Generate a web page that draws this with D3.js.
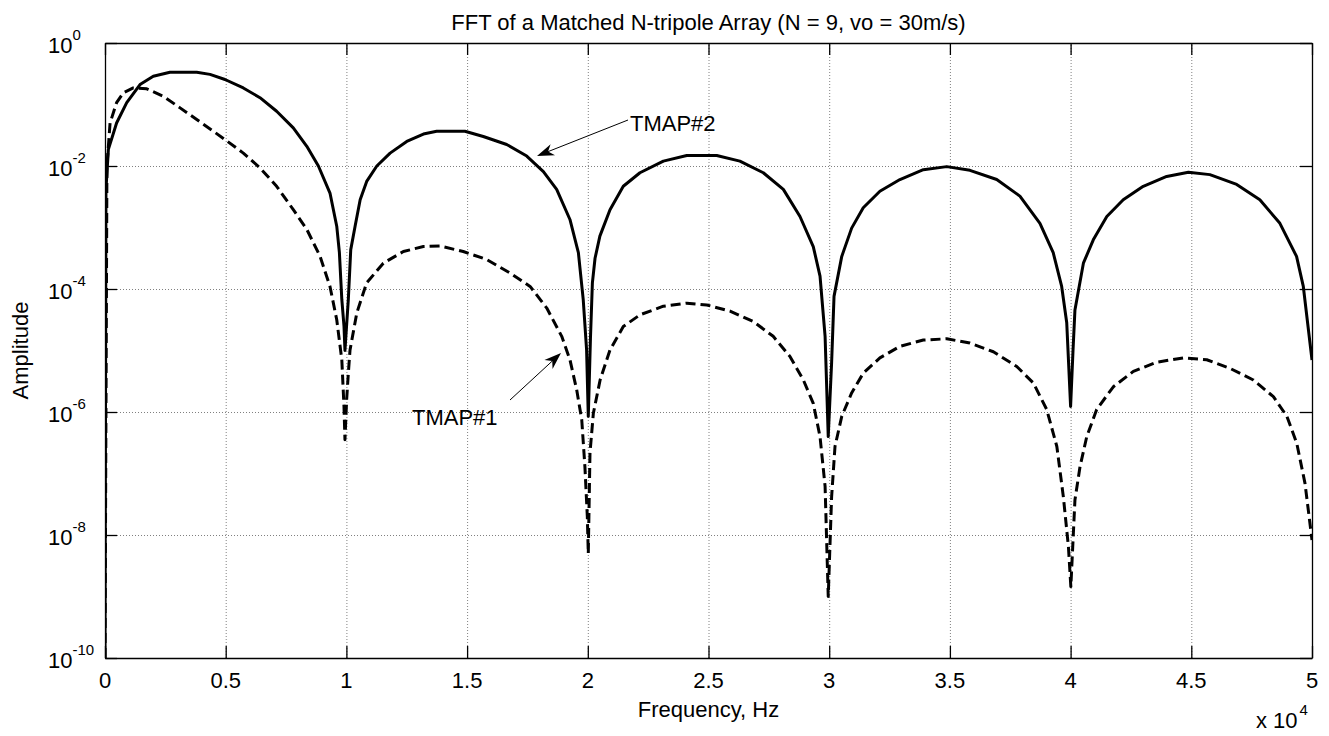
<!DOCTYPE html>
<html>
<head>
<meta charset="utf-8">
<script src="https://cdn.jsdelivr.net/npm/d3@7"></script>
<style>
  body { margin: 0; background: #fff; }
  svg { display: block; font-family: 'Liberation Sans', Arial, sans-serif; }
</style>
</head>
<body>
<div class="chart"></div>
<script>
// values (frequency in Hz, amplitude linear)
const tmap2Freq = [0, 40, 140, 480, 900, 1450, 2000, 2690, 3800, 4350, 4970, 5730, 6420, 7110, 7800, 8360, 8840, 9320, 9600, 9710, 9810, 9900, 9940,
	10080, 10180, 10360, 10570, 10840, 11260, 11810, 12500, 13190, 13740, 14910, 15670, 16640, 17470, 18160, 18710, 19260, 19610, 19810, 19950, 20020,
	20110, 20190, 20300, 20500, 20920, 21470, 22160, 23130, 24100, 25340, 26300, 27270, 28100, 28790, 29340, 29620, 29830, 29960,
	30100, 30200, 30520, 30930, 31410, 32100, 32930, 33900, 34870, 35830, 36940, 37900, 38730, 39280, 39630, 39840, 40000,
	40100, 40180, 40530, 40940, 41500, 42180, 43010, 43980, 44880, 45770, 46880, 47840, 48670, 49360, 49640, 50000];
const tmap2Amp = [1e-10, 4.17e-3, 1.86e-2, 5.0e-2, 0.107, 0.211, 0.288, 0.335, 0.335, 0.309, 0.255, 0.186, 0.129, 0.0776, 0.0417, 0.0209, 0.01, 3.63e-3, 1.05e-3, 3.89e-4, 6.76e-5, 2.5e-5, 1.0e-5,
	6.76e-5, 4.37e-4, 1.05e-3, 2.82e-3, 5.62e-3, 1.0e-2, 1.62e-2, 2.51e-2, 3.31e-2, 3.67e-2, 3.67e-2, 3.02e-2, 2.24e-2, 1.45e-2, 8.13e-3, 4.17e-3, 1.35e-3, 3.89e-4, 6.76e-5, 1.02e-5, 8.5e-7,
	1.58e-5, 1.26e-4, 3.16e-4, 7.24e-4, 1.95e-3, 4.68e-3, 7.76e-3, 1.20e-2, 1.48e-2, 1.48e-2, 1.20e-2, 7.76e-3, 4.17e-3, 1.51e-3, 4.9e-4, 1.62e-4, 1.7e-5, 3.98e-7,
	6.31e-6, 7.59e-5, 3.39e-4, 9.77e-4, 2.09e-3, 3.89e-3, 6.03e-3, 8.71e-3, 9.77e-3, 8.51e-3, 6.03e-3, 3.24e-3, 1.17e-3, 3.89e-4, 1.10e-4, 2.82e-5, 1.23e-6,
	1.0e-5, 4.57e-5, 2.63e-4, 6.31e-4, 1.51e-3, 2.82e-3, 4.68e-3, 6.76e-3, 7.94e-3, 7.24e-3, 5.01e-3, 2.82e-3, 1.17e-3, 3.39e-4, 1.10e-4, 7.0e-6];

const tmap1Freq = [0, 80, 210, 480, 760, 1170, 1730, 2420, 3110, 3800, 4490, 4970, 5730, 6420, 7110, 7800, 8360, 8910, 9320, 9600, 9810, 9900, 9940,
	10010, 10080, 10150, 10430, 10840, 11530, 12360, 13190, 13880, 14840, 15810, 16780, 17610, 18300, 18920, 19260, 19540, 19750, 19880, 19980, 20020,
	20090, 20230, 20510, 20920, 21470, 22160, 23130, 24100, 24930, 25890, 26860, 27680, 28380, 28930, 29340, 29620, 29830, 29960,
	30100, 30240, 30520, 30930, 31410, 32100, 32930, 33900, 34870, 35830, 36800, 37770, 38460, 39010, 39430, 39700, 39910, 40010,
	40180, 40390, 40670, 41080, 41770, 42600, 43570, 44670, 45640, 46600, 47570, 48400, 48960, 49370, 49710, 50000];
const tmap1Amp = [1e-10, 1e-2, 5.0e-2, 0.107, 0.155, 0.186, 0.180, 0.136, 0.0881, 0.0569, 0.0367, 0.0269, 0.0162, 9.33e-3, 4.68e-3, 1.95e-3, 9.33e-4, 3.39e-4, 1.10e-4, 3.16e-5, 7.08e-6, 1.23e-6, 3.55e-7,
	1.58e-6, 4.27e-6, 1.02e-5, 4.07e-5, 1.26e-4, 2.63e-4, 4.07e-4, 4.90e-4, 5.01e-4, 4.07e-4, 3.02e-4, 1.82e-4, 1.10e-4, 4.90e-5, 1.70e-5, 7.08e-6, 2.29e-6, 7.41e-7, 1.29e-7, 2.0e-8, 5.0e-9,
	2.14e-7, 9.55e-7, 3.31e-6, 1.02e-5, 2.45e-5, 3.80e-5, 5.25e-5, 5.89e-5, 5.50e-5, 4.37e-5, 2.95e-5, 1.70e-5, 7.94e-6, 3.31e-6, 1.38e-6, 3.98e-7, 6.17e-8, 1.0e-9,
	4.17e-8, 2.75e-7, 8.51e-7, 2.04e-6, 4.27e-6, 7.59e-6, 1.17e-5, 1.48e-5, 1.55e-5, 1.32e-5, 9.55e-6, 5.50e-6, 2.95e-6, 1.10e-6, 2.75e-7, 4.17e-8, 6.46e-9, 1.45e-9,
	3.72e-8, 1.29e-7, 3.98e-7, 1.10e-6, 2.57e-6, 4.57e-6, 6.46e-6, 7.59e-6, 7.08e-6, 5.13e-6, 3.31e-6, 1.78e-6, 8.51e-7, 3.09e-7, 6.92e-8, 8.3e-9];

const xTicks = [0, 5000, 10000, 15000, 20000, 25000, 30000, 35000, 40000, 45000, 50000];
const xTickLabels = ['0', '0.5', '1', '1.5', '2', '2.5', '3', '3.5', '4', '4.5', '5'];
const yTicks = [1, 1e-2, 1e-4, 1e-6, 1e-8, 1e-10];
const yTickExps = ['0', '-2', '-4', '-6', '-8', '-10'];

const titleText = 'FFT of a Matched N-tripole Array (N = 9, vo = 30m/s)';

const svgWidth = 1329;
const svgHeight = 736;
const plot = { left: 105, right: 1312, top: 43, bottom: 658 };

const svg = d3
	.select('.chart')
	.append('svg')
	.attr('width', svgWidth)
	.attr('height', svgHeight);

const x = d3.scaleLinear().domain([ 0, 50000 ]).range([ plot.left, plot.right ]);
const y = d3.scaleLog().domain([ 1e-10, 1 ]).range([ plot.bottom, plot.top ]);

svg.append('clipPath').attr('id', 'clip')
	.append('rect')
	.attr('x', plot.left).attr('y', plot.top)
	.attr('width', plot.right - plot.left).attr('height', plot.bottom - plot.top);

// dotted grid
const grid = svg.append('g').attr('class', 'grid');
grid.append('g')
	.attr('transform', `translate(0,${plot.bottom})`)
	.call(d3.axisBottom(x).tickValues(xTicks.slice(1, -1)).tickSize(-(plot.bottom - plot.top)).tickFormat(''));
grid.append('g')
	.attr('transform', `translate(${plot.left},0)`)
	.call(d3.axisLeft(y).tickValues(yTicks.slice(1, -1)).tickSize(-(plot.right - plot.left)).tickFormat(''));
grid.selectAll('.domain').remove();
grid.selectAll('line')
	.attr('stroke', '#808080')
	.attr('stroke-width', 1)
	.attr('stroke-dasharray', '1,2');

// curves
const line = d3.line().x((d) => x(d[0])).y((d) => y(d[1]));
const curves = svg.append('g').attr('clip-path', 'url(#clip)');

curves.append('path')
	.datum(d3.zip(tmap1Freq, tmap1Amp))
	.attr('d', line)
	.attr('fill', 'none')
	.attr('stroke', '#000')
	.attr('stroke-width', 3)
	.attr('stroke-dasharray', '10,5')
	.attr('stroke-linejoin', 'round');

curves.append('path')
	.datum(d3.zip(tmap2Freq, tmap2Amp))
	.attr('d', line)
	.attr('fill', 'none')
	.attr('stroke', '#000')
	.attr('stroke-width', 3)
	.attr('stroke-linejoin', 'round');

// box with inward ticks on all four sides
const tickLen = 12;
const axes = svg.append('g').attr('class', 'axes');
axes.append('g').attr('transform', `translate(0,${plot.bottom})`)
	.call(d3.axisBottom(x).tickValues(xTicks).tickSize(-tickLen).tickSizeOuter(0).tickFormat(''));
axes.append('g').attr('transform', `translate(0,${plot.top})`)
	.call(d3.axisTop(x).tickValues(xTicks).tickSize(-tickLen).tickSizeOuter(0).tickFormat(''));
axes.append('g').attr('transform', `translate(${plot.left},0)`)
	.call(d3.axisLeft(y).tickValues(yTicks).tickSize(-tickLen).tickSizeOuter(0).tickFormat(''));
axes.append('g').attr('transform', `translate(${plot.right},0)`)
	.call(d3.axisRight(y).tickValues(yTicks).tickSize(-tickLen).tickSizeOuter(0).tickFormat(''));
axes.selectAll('path.domain').attr('stroke', '#000').attr('stroke-width', 1.3);
axes.selectAll('line').attr('stroke', '#000').attr('stroke-width', 1.3);

// x tick labels
svg.append('g')
	.selectAll('text')
	.data(xTicks)
	.join('text')
	.attr('x', (d) => x(d))
	.attr('y', plot.bottom + 30)
	.attr('text-anchor', 'middle')
	.attr('font-size', 22)
	.text((d, i) => xTickLabels[i]);

// y tick labels 10^n
const yLab = svg.append('g')
	.selectAll('text')
	.data(yTicks)
	.join('text')
	.attr('x', 48)
	.attr('y', (d) => y(d) + 10)
	.attr('font-size', 22);
yLab.append('tspan').text('10');
yLab.append('tspan')
	.attr('font-size', 15)
	.attr('dy', -13)
	.text((d, i) => yTickExps[i]);

// exponent note under the x axis
const note = svg.append('text')
	.attr('x', 1256)
	.attr('y', 728)
	.attr('font-size', 22);
note.append('tspan').text('x 10');
note.append('tspan').attr('font-size', 15).attr('dy', -13).attr('dx', 2).text('4');

// title and axis labels
svg.append('text')
	.attr('x', (plot.left + plot.right) / 2)
	.attr('y', 30)
	.attr('text-anchor', 'middle')
	.attr('font-size', 22)
	.text(titleText);

svg.append('text')
	.attr('x', (plot.left + plot.right) / 2)
	.attr('y', 717)
	.attr('text-anchor', 'middle')
	.attr('font-size', 22)
	.text('Frequency, Hz');

svg.append('text')
	.attr('transform', `translate(28,${(plot.top + plot.bottom) / 2}) rotate(-90)`)
	.attr('text-anchor', 'middle')
	.attr('font-size', 22)
	.text('Amplitude');

// annotations
const notes = [
	{ label: 'TMAP#2', from: [ 628, 120 ], to: [ 537, 156 ], textX: 630, textY: 131 },
	{ label: 'TMAP#1', from: [ 510, 400 ], to: [ 561, 353 ], textX: 412, textY: 425 }
];

notes.forEach((n) => {
	const [ x0, y0 ] = n.from;
	const [ x1, y1 ] = n.to;
	const ang = Math.atan2(y1 - y0, x1 - x0);
	const len = 17;
	const half = 6;
	const bx = x1 - len * Math.cos(ang);
	const by = y1 - len * Math.sin(ang);
	const nx = x1 - len * 0.7 * Math.cos(ang);
	const ny = y1 - len * 0.7 * Math.sin(ang);
	svg.append('line')
		.attr('x1', x0).attr('y1', y0)
		.attr('x2', nx).attr('y2', ny)
		.attr('stroke', '#000')
		.attr('stroke-width', 1);
	const head = [
		[ x1, y1 ],
		[ bx - half * Math.sin(ang), by + half * Math.cos(ang) ],
		[ nx, ny ],
		[ bx + half * Math.sin(ang), by - half * Math.cos(ang) ]
	];
	svg.append('path')
		.attr('d', 'M' + head.map((p) => p.join(',')).join('L') + 'Z')
		.attr('fill', '#000');
	svg.append('text')
		.attr('x', n.textX)
		.attr('y', n.textY)
		.attr('font-size', 22)
		.text(n.label);
});
</script>
</body>
</html>
